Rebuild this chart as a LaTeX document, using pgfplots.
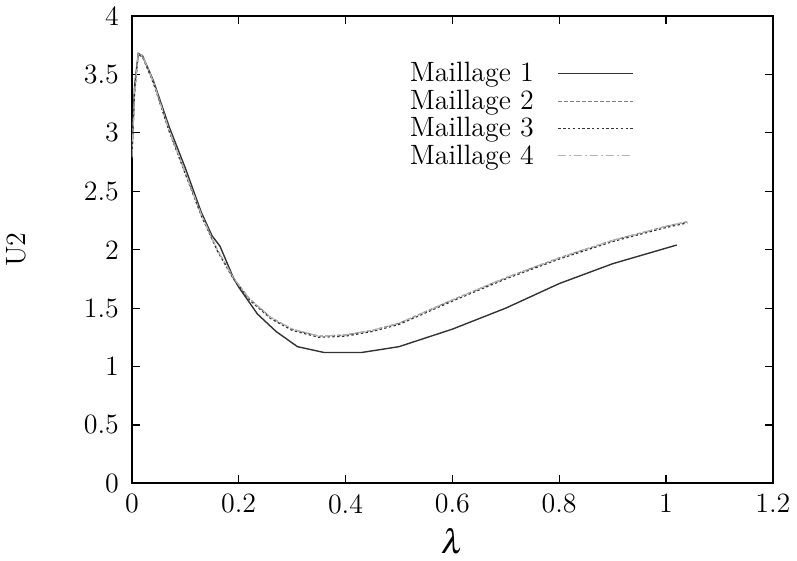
\documentclass[border=0pt]{standalone}
\usepackage{mathptmx}
\usepackage{pgfplots}
\pgfplotsset{compat=1.18}
\begin{document}
\begin{tikzpicture}
\begin{axis}[
  scale only axis,
  width=321pt, height=234pt,
  xmin=0, xmax=1.2, ymin=0, ymax=4,
  xtick={0,0.2,...,1.2}, ytick={0,0.5,...,4},
  xticklabels={0,0.2,0.4,0.6,0.8,1,1.2},
  yticklabels={0,0.5,1,1.5,2,2.5,3,3.5,4},
  tick align=inside,
  major tick length=4pt,
  tick style={black, line width=0.6pt},
  axis line style={black, line width=0.9pt},
  tick label style={font=\fontsize{14}{16}\selectfont},
  xticklabel style={yshift=-2pt},
  yticklabel style={xshift=-3pt},
  xlabel={$\lambda$}, ylabel={U2},
  every axis x label/.style={at={(axis description cs:0.5,0)}, anchor=center,
    yshift=-29pt, font=\fontsize{17}{18}\selectfont},
  every axis y label/.style={at={(axis description cs:-0.18,0.5)}, anchor=center,
    rotate=90, font=\fontsize{14}{16}\selectfont},
  legend cell align=right,
  legend style={draw=none, fill=none, at={(0.784,0.91)}, anchor=north east,
    legend plot pos=right, font=\fontsize{14}{14}\selectfont,
    row sep=-1.5pt, inner sep=0pt},
  legend image code/.code={\path (0pt,0pt); \draw[#1] (10pt,0pt) -- (47.5pt,0pt);},
]
\addplot[black!80, line width=0.7pt] coordinates {
(0,2.82) (0.005,3.40) (0.012,3.68) (0.02,3.66) (0.04,3.45) (0.07,3.05)
(0.10,2.70) (0.13,2.32) (0.15,2.12) (0.165,2.03) (0.19,1.76) (0.20,1.68)
(0.235,1.45) (0.27,1.30) (0.31,1.17) (0.36,1.12) (0.43,1.12) (0.50,1.17)
(0.60,1.32) (0.70,1.50) (0.80,1.71) (0.90,1.88) (1.02,2.04)};
\addlegendentry{Maillage 1}
\addplot[black!50, line width=0.6pt, dash pattern=on 2pt off 1pt] coordinates {
(0,2.80) (0.005,3.35) (0.012,3.68) (0.02,3.66) (0.04,3.44) (0.07,3.02)
(0.10,2.66) (0.13,2.30) (0.16,2.00) (0.19,1.76) (0.22,1.58) (0.26,1.42)
(0.30,1.32) (0.35,1.26) (0.40,1.27) (0.45,1.31) (0.50,1.37) (0.60,1.57)
(0.70,1.76) (0.80,1.93) (0.90,2.08) (1.00,2.20) (1.04,2.24)};
\addlegendentry{Maillage 2}
\addplot[black!80, line width=0.6pt, dash pattern=on 1.2pt off 1.2pt] coordinates {
(0,2.78) (0.005,3.33) (0.012,3.67) (0.02,3.65) (0.04,3.43) (0.07,3.01)
(0.10,2.65) (0.13,2.29) (0.16,1.99) (0.19,1.75) (0.22,1.57) (0.26,1.41)
(0.30,1.31) (0.35,1.25) (0.40,1.26) (0.45,1.30) (0.50,1.36) (0.60,1.56)
(0.70,1.75) (0.80,1.92) (0.90,2.07) (1.00,2.19) (1.04,2.23)};
\addlegendentry{Maillage 3}
\addplot[black!30, line width=0.6pt, dash pattern=on 4pt off 1.5pt on 1pt off 1.5pt] coordinates {
(0,2.79) (0.005,3.34) (0.012,3.68) (0.02,3.66) (0.04,3.44) (0.07,3.02)
(0.10,2.66) (0.13,2.30) (0.16,2.00) (0.19,1.76) (0.22,1.58) (0.26,1.42)
(0.30,1.32) (0.35,1.26) (0.40,1.27) (0.45,1.31) (0.50,1.37) (0.60,1.57)
(0.70,1.76) (0.80,1.93) (0.90,2.08) (1.00,2.20) (1.04,2.24)};
\addlegendentry{Maillage 4}
\end{axis}
\end{tikzpicture}
\end{document}
